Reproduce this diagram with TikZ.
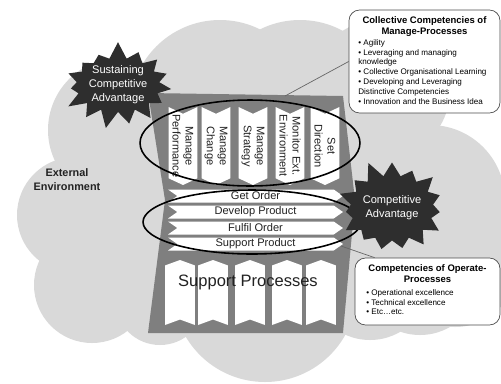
\documentclass[tikz,border=0pt]{standalone}
\usepackage{fontspec}
\setmainfont{Liberation Sans}
\usetikzlibrary{positioning,shapes.geometric,shapes.symbols}
\definecolor{cloudgray}{HTML}{D9D9D9}
\definecolor{framegray}{HTML}{7F7F7F}
\definecolor{stargray}{HTML}{2E2E2E}
\definecolor{inkgray}{HTML}{222222}
\tikzset{
  topcol/.style={
    signal, signal to=east, signal from=west,
    signal pointer angle=130,
    fill=white, rotate=-90,
    minimum width=1.56cm, minimum height=0.58cm,
    inner sep=0pt, align=center, text=inkgray,
    font=\fontsize{6.3}{7.4}\selectfont
  },
  botcol/.style={
    signal, signal to=east, signal from=west,
    signal pointer angle=140,
    fill=white, rotate=90,
    minimum width=1.3cm, minimum height=0.6cm,
    inner sep=0pt
  },
  flow/.style={
    signal, signal to=east, signal from=west,
    signal pointer angle=70,
    fill=white, text=inkgray,
    minimum width=3.5cm, minimum height=0.26cm,
    inner sep=0pt, font=\fontsize{6.3}{7.4}\selectfont
  },
  ringline/.style={draw, ellipse, line width=0.9pt, inner sep=0pt},
  burst/.style={
    starburst, fill=stargray, text=white, align=center,
    starburst points=15, starburst point height=0.35cm,
    inner sep=0pt, font=\fontsize{6.3}{7.9}\selectfont
  },
  callout/.style={
    draw=black!70, fill=white, rounded corners=6pt, line width=0.4pt
  },
  tailline/.style={draw=black!60, line width=0.4pt},
  boxtitle/.style={
    align=center, inner sep=0pt,
    font=\fontsize{5.4}{6.3}\selectfont\bfseries
  },
  boxlist/.style={
    align=left, inner sep=0pt, anchor=north west,
    font=\fontsize{4.6}{5.6}\selectfont
  }
}

\begin{document}
\begin{tikzpicture}[x=0.02cm, y=-0.02cm]
  \useasboundingbox (0,0) rectangle (501,383);

  % cloud (external environment)
  \begin{scope}
    \clip (0,0) rectangle (501,383);
    \fill[cloudgray] (220,110) circle[radius=90];
    \fill[cloudgray] (300,110) circle[radius=90];
    \fill[cloudgray] (120,130) circle[radius=72];
    \fill[cloudgray] (75,215) circle[radius=58];
    \fill[cloudgray] (92,285) circle[radius=58];
    \fill[cloudgray] (160,300) circle[radius=45];
    \fill[cloudgray] (265,290) circle[radius=92];
    \fill[cloudgray] (370,280) circle[radius=60];
    \fill[cloudgray] (420,275) circle[radius=60];
    \fill[cloudgray] (455,265) circle[radius=62];
    \fill[cloudgray] (430,200) circle[radius=75];
    \fill[cloudgray] (380,90) circle[radius=70];
    \fill[cloudgray] (100,110) rectangle (440,320);
  \end{scope}

  % process house
  \fill[framegray] (148,93) -- (343,96) -- (355,200) -- (343,333)
    -- (148,333) -- (165,200) -- cycle;

  % manage processes
  \node[topcol] (perf) at (183,146) {Manage\\Performance};
  \node[topcol] (change) at (216,146) {Manage\\Change};
  \node[topcol] (strat) at (253,146) {Manage\\Strategy};
  \node[topcol] (monitor) at (290,146) {Monitor Ext.\\Environment};
  \node[topcol] (direct) at (325,146) {Set\\Direction};

  % operate processes
  \node[flow] (getord) at (255.5,196) {Get Order};
  \node[flow] (devprod) at (255.5,212) {Develop Product};
  \node[flow] (fulord) at (255.5,228) {Fulfil Order};
  \node[flow] (supprod) at (255.5,244) {Support Product};

  % support processes
  \node[botcol] (sup1) at (180,292.5) {};
  \node[botcol] (sup2) at (213,292.5) {};
  \node[botcol] (sup3) at (250,292.5) {};
  \node[botcol] (sup4) at (287,292.5) {};
  \node[botcol] (sup5) at (321,292.5) {};
  \node[text=inkgray, font=\fontsize{9.4}{11}\selectfont] (supproc) at (248,282) {Support Processes};

  % groupings
  \node[ringline, minimum width=4.4cm, minimum height=1.72cm] (mgmtring) at (250,143) {};
  \node[ringline, minimum width=4.36cm, minimum height=1.28cm] (opsring) at (252,222) {};

  \node[burst, random starburst=7, minimum width=2.36cm, minimum height=1.6cm] (sustain) at (118,85)
    {Sustaining\\Competitive\\Advantage};
  \node[burst, random starburst=11, minimum width=1.8cm, minimum height=2.0cm] (compadv) at (392,208)
    {Competitive\\Advantage};

  \node[font=\fontsize{6.2}{7.9}\selectfont\bfseries, align=center, text=inkgray] (extenv) at (67,180)
    {External\\Environment};

  % callouts
  \coordinate (mgmttip) at (285,96);
  \coordinate (opstip) at (341,246);
  \node[callout, minimum width=3.02cm, minimum height=2.06cm] (mgmtbox) at (424.5,61.5) {};
  \draw[tailline] (mgmtbox.west) -- (mgmttip);
  \node[boxtitle, below=4pt of mgmtbox.north] (mgmttitle) {Collective Competencies of\\Manage-Processes};
  \node[boxlist] (mgmtlist) at (358,39) {• Agility\\• Leveraging and managing\\knowledge\\
    • Collective Organisational Learning\\• Developing and Leveraging\\
    Distinctive Competencies\\• Innovation and the Business Idea};

  \node[callout, minimum width=2.9cm, minimum height=1.34cm] (opsbox) at (427.5,291.5) {};
  \draw[tailline] ([xshift=0.4cm]opsbox.north west) -- (opstip);
  \node[boxtitle, below=4pt of opsbox.north] (opstitle) {Competencies of Operate-\\Processes};
  \node[boxlist] (opslist) at (366,289) {• Operational excellence\\• Technical excellence\\• Etc…etc.};
\end{tikzpicture}
\end{document}
